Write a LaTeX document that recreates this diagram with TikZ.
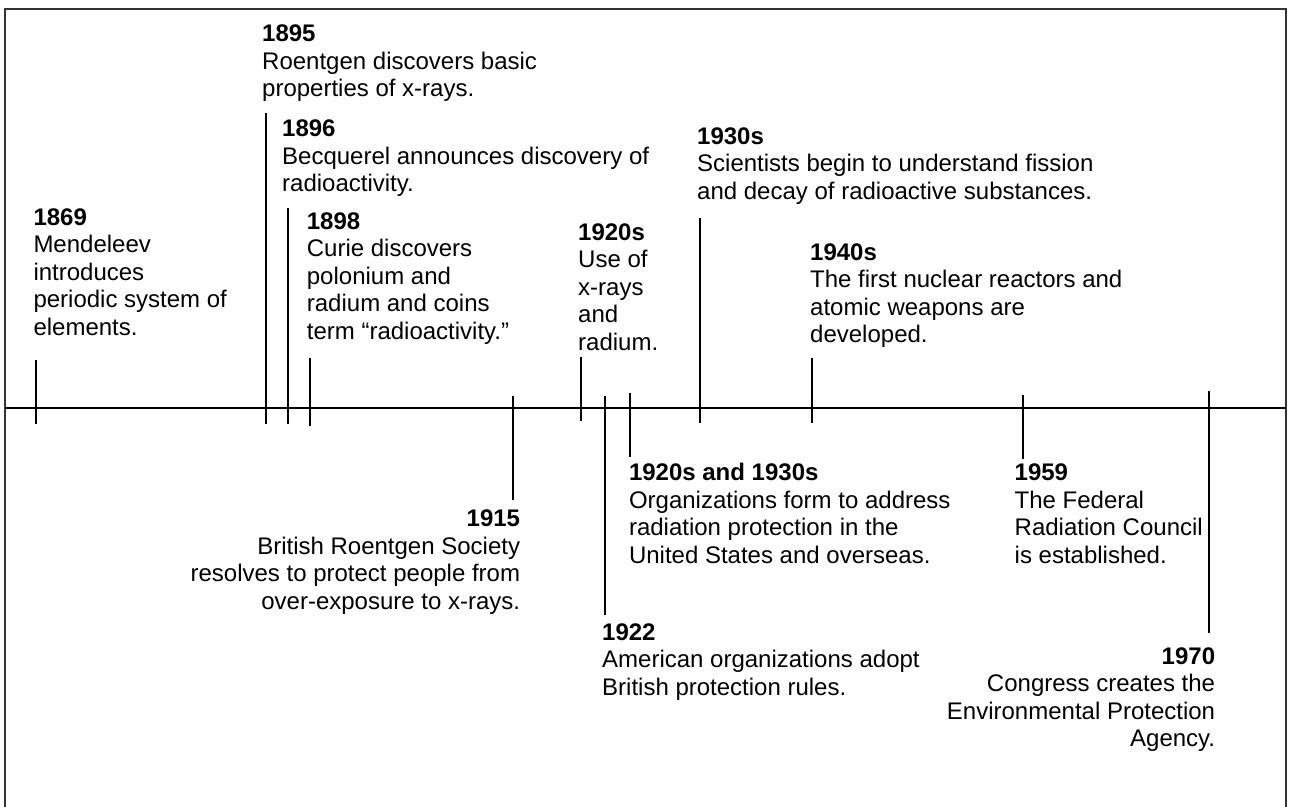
\documentclass[tikz,border=0pt]{standalone}
\usepackage{fontspec}
\setmainfont{Liberation Sans}
\begin{document}
\begin{tikzpicture}[x=1pt,y=-1pt,
  lbl/.style={inner sep=0pt, align=left, anchor=base west, font=\fontsize{24}{27.6}\selectfont},
  lblr/.style={inner sep=0pt, align=right, anchor=base east, font=\fontsize{24}{27.6}\selectfont},
  tickline/.style={line width=2pt, black},
  framebox/.style={line width=2pt, black!80}]
\useasboundingbox (0,0) rectangle (1295,806);
% frame and axis
\coordinate (fbl) at (5,810);
\coordinate (ftl) at (5,9);
\coordinate (ftr) at (1286,9);
\coordinate (fbr) at (1286,810);
\draw[framebox] (fbl) -- (ftl) -- (ftr) -- (fbr);
\coordinate (axl) at (5,408);
\coordinate (axr) at (1286,408);
\draw[tickline] (axl) -- (axr);
% labels (anchor = baseline of the last line)
\node[lbl] (t1869) at (33.3,335.4) {\textbf{1869}\\Mendeleev\\introduces\\periodic system of\\elements.};
\node[lbl] (t1895) at (262,96.9) {\textbf{1895}\\Roentgen discovers basic\\properties of x-rays.};
\node[lbl] (t1896) at (282,191.9) {\textbf{1896}\\Becquerel announces discovery of\\radioactivity.};
\node[lbl] (t1898) at (306.7,339.4) {\textbf{1898}\\Curie discovers\\polonium and\\radium and coins\\term “radioactivity.”};
\node[lbl] (t1920s) at (578,350.4) {\textbf{1920s}\\Use of\\x-rays\\and\\radium.};
\node[lbl] (t1930s) at (697,199.2) {\textbf{1930s}\\Scientists begin to understand fission\\and decay of radioactive substances.};
\node[lbl] (t1940s) at (810,342.8) {\textbf{1940s}\\The first nuclear reactors and\\atomic weapons are\\developed.};
\node[lblr] (t1915) at (520.3,609.5) {\textbf{1915}\\British Roentgen Society\\resolves to protect people from\\over-exposure to x-rays.};
\node[lbl] (t1922) at (602,695.2) {\textbf{1922}\\American organizations adopt\\British protection rules.};
\node[lbl] (t1920s30s) at (628.8,563.5) {\textbf{1920s and 1930s}\\Organizations form to address\\radiation protection in the\\United States and overseas.};
\node[lbl] (t1959) at (1014.5,563.5) {\textbf{1959}\\The Federal\\Radiation Council\\is established.};
\node[lblr] (t1970) at (1215.3,746.8) {\textbf{1970}\\Congress creates the\\Environmental Protection\\Agency.};
% ticks
\foreach \n/\x/\ya/\yb in {1869/36/360/424, 1895/265.7/113/424, 1896/287.7/208/424, 1898/310/358/426,
  1915/513/396/500, 1920s/580.7/357/421, 1922/605/396/615, 1920s30s/630/393/457,
  1930s/700/218/423, 1940s/812/358/423, 1959/1022.7/395/459, 1970/1209/391/633}{
  \coordinate (a\n) at (\x,\ya);
  \coordinate (b\n) at (\x,\yb);
  \draw[tickline] (a\n) -- (b\n);
}
\end{tikzpicture}
\end{document}
